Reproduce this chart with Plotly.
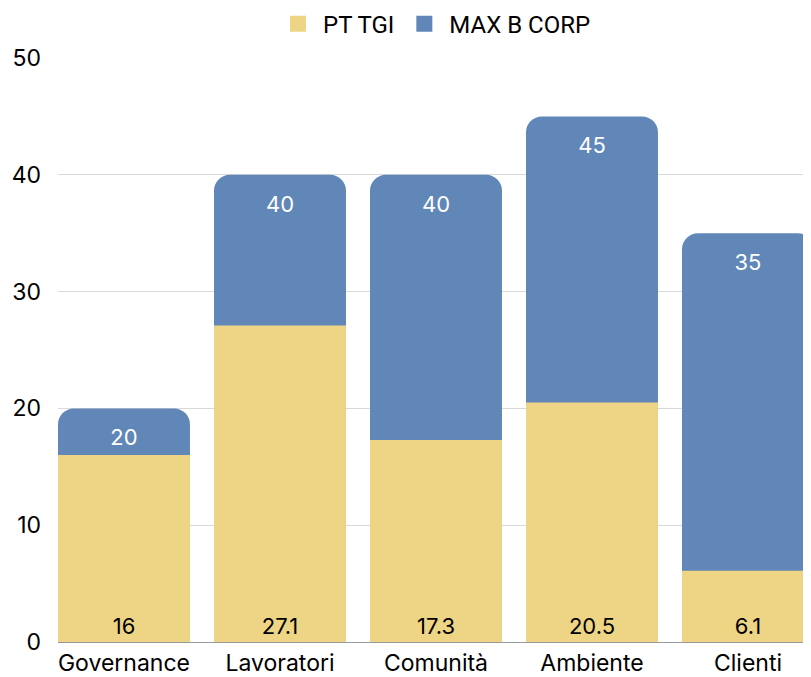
import plotly.graph_objects as go

categories = ["Governance", "Lavoratori", "Comunità", "Ambiente", "Clienti"]
pt_tgi = [16, 27.1, 17.3, 20.5, 6.1]
max_b_corp = [20, 40, 40, 45, 35]
y_ticks = [0, 10, 20, 30, 40, 50]

YELLOW = "#EED485"
BLUE = "#6087B8"
FONT = "Inter, Roboto, sans-serif"

fig = go.Figure()
fig.add_trace(go.Bar(
    x=categories, y=max_b_corp, name="MAX B CORP",
    marker=dict(color=BLUE, cornerradius=16, line=dict(width=0)),
    text=[str(v) for v in max_b_corp], textposition="inside",
    insidetextanchor="end", textangle=0,
    textfont=dict(color="white", size=22, family=FONT),
    showlegend=False,
))
fig.add_trace(go.Bar(
    x=categories, y=pt_tgi, name="PT TGI",
    marker=dict(color=YELLOW, line=dict(width=0)),
    text=[str(v) for v in pt_tgi], textposition="inside",
    insidetextanchor="start", textangle=0,
    textfont=dict(color="black", size=22, family=FONT),
    showlegend=False,
))
# legend swatches (square markers)
for name, col in [("PT TGI", YELLOW), ("MAX B CORP", BLUE)]:
    fig.add_trace(go.Scatter(
        x=[None], y=[None], mode="markers", name=name,
        marker=dict(symbol="square", size=28, color=col),
    ))

fig.update_layout(
    width=811, height=677,
    barmode="overlay", bargap=0.154,
    plot_bgcolor="white", paper_bgcolor="white",
    margin=dict(l=50, r=8, t=50, b=43, autoexpand=False),
    font=dict(family=FONT, size=23, color="black"),
    uniformtext=dict(mode=False),
    legend=dict(orientation="h", x=0.5, xanchor="center", y=1.058, yanchor="middle",
                yref="paper", font=dict(size=24, family="Roboto, Inter, sans-serif"),
                traceorder="normal", itemsizing="trace", itemwidth=40),
    xaxis=dict(range=[-0.423, 4.404], showgrid=False, showline=True,
               linecolor="#999999", linewidth=1, ticks="", automargin=False,
               tickfont=dict(size=23), ticklabelstandoff=0),
    yaxis=dict(range=[0, 50], tickvals=y_ticks, showgrid=True,
               gridcolor="#D9D9D9", gridwidth=1, zeroline=False, automargin=False,
               ticks="", ticklabelstandoff=16, tickfont=dict(size=23)),
)

fig.write_html("out.html")
